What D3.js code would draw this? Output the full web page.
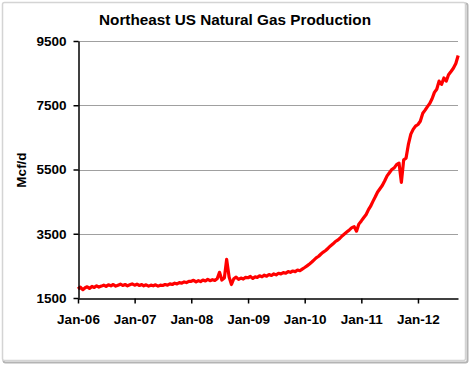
<!DOCTYPE html>
<html><head><meta charset="utf-8">
<script src="https://cdn.jsdelivr.net/npm/d3@7"></script>
<style>
html,body{margin:0;padding:0;background:#fff;}
svg{display:block;font-family:Arial,"Liberation Sans",sans-serif;}
</style></head>
<body><svg id="c" width="470" height="366"></svg>
<script>
const title = "Northeast US Natural Gas Production";
const yLabel = "Mcf/d";
const yTicks = [1500, 3500, 5500, 7500, 9500];
const xTickYears = [2006, 2007, 2008, 2009, 2010, 2011, 2012];
// semi-monthly readings (1st and 16th of each month), starting Jan 2006
const start = new Date(2006, 0, 1);
const v2006 = [1780,1840,1760,1820,1850,1800,1860,1830,1880,1840,1870,1900,1860,1910,1880,1920,1870,1900,1930,1890,1920,1880,1910,1940];
const v2007 = [1900,1930,1890,1920,1880,1910,1870,1900,1880,1910,1870,1900,1890,1920,1900,1940,1920,1960,1940,1980,1960,2000,1980,2020];
const v2008 = [2020,2050,2000,2040,2010,2060,2030,2080,2040,2070,2050,2100,2300,2060,2120,2700,2150,1920,2100,2150,2080,2120,2090,2140];
const v2009 = [2130,2170,2110,2160,2140,2190,2160,2210,2180,2230,2200,2250,2220,2270,2250,2290,2270,2320,2300,2340,2320,2370,2350,2400];
const v2010 = [2450,2500,2560,2620,2680,2750,2800,2870,2930,2980,3050,3120,3180,3250,3300,3360,3440,3500,3560,3620,3690,3720,3580,3800];
const v2011 = [3900,4000,4100,4250,4350,4500,4650,4800,4900,5000,5150,5300,5400,5500,5550,5650,5700,5100,5800,5850,6300,6600,6750,6850];
const v2012 = [6900,7000,7250,7350,7450,7550,7700,7900,8000,8250,8150,8350,8250,8450,8550,8650,8800,9050];
const values = [].concat(v2006, v2007, v2008, v2009, v2010, v2011, v2012);
const data = values.map((v, i) => ({
  date: new Date(start.getFullYear(), start.getMonth() + Math.floor(i / 2), i % 2 ? 16 : 1),
  value: v
}));

const svg = d3.select("#c");
// frame
svg.append("rect").attr("x", 3.5).attr("y", 3.5).attr("width", 464).attr("height", 359)
  .attr("rx", 2).attr("fill", "none").attr("stroke", "#b4b4b4").attr("stroke-width", 2);
svg.append("rect").attr("x", 2.5).attr("y", 2.5).attr("width", 463).attr("height", 358)
  .attr("rx", 2).attr("fill", "#fff").attr("stroke", "#d4d4d4").attr("stroke-width", 1.5);

const m = {left: 78, right: 458, top: 41, bottom: 298};
const x = d3.scaleTime().domain([new Date(2006, 0, 1), new Date(2012, 8, 15)]).range([m.left, m.right]);
const y = d3.scaleLinear().domain([1500, 9500]).range([m.bottom, m.top]);

// gridlines
svg.append("g").selectAll("line").data(yTicks.slice(1)).join("line")
  .attr("x1", m.left).attr("x2", m.right)
  .attr("y1", d => Math.round(y(d)) + 0.5).attr("y2", d => Math.round(y(d)) + 0.5)
  .attr("stroke", "#a0a0a0").attr("stroke-width", 1);

// line
svg.append("path").datum(data)
  .attr("fill", "none").attr("stroke", "#ff0000").attr("stroke-width", 3.2)
  .attr("stroke-linejoin", "round")
  .attr("d", d3.line().x(d => x(d.date)).y(d => y(d.value)));

// axes
const yAxis = svg.append("g").attr("transform", `translate(${m.left + 0.5},0)`)
  .call(d3.axisLeft(y).tickValues(yTicks).tickFormat(d3.format("d")).tickSize(5).tickSizeOuter(0).tickPadding(7));
const xAxis = svg.append("g").attr("transform", `translate(0,${m.bottom + 0.5})`)
  .call(d3.axisBottom(x).tickValues(xTickYears.map(yr => new Date(yr, 0, 1)))
    .tickFormat(d3.timeFormat("%b-%y")).tickSize(5).tickSizeOuter(0).tickPadding(11));
[yAxis, xAxis].forEach(g => {
  g.select(".domain").attr("stroke", "#000").attr("stroke-width", 1.5);
  g.selectAll(".tick line").attr("stroke", "#000").attr("stroke-width", 1.5);
  g.selectAll("text").attr("fill", "#000").attr("font-size", 13.5).attr("font-weight", "bold")
    .attr("font-family", "Arial, 'Liberation Sans', sans-serif");
});

// title
svg.append("text").attr("x", 235).attr("y", 25).attr("text-anchor", "middle")
  .attr("font-size", 15.3).attr("font-weight", "bold").text(title);
// y label
svg.append("text").attr("transform", "translate(26,170) rotate(-90)").attr("text-anchor", "middle")
  .attr("font-size", 13.5).attr("font-weight", "bold").text(yLabel);
</script></body></html>
